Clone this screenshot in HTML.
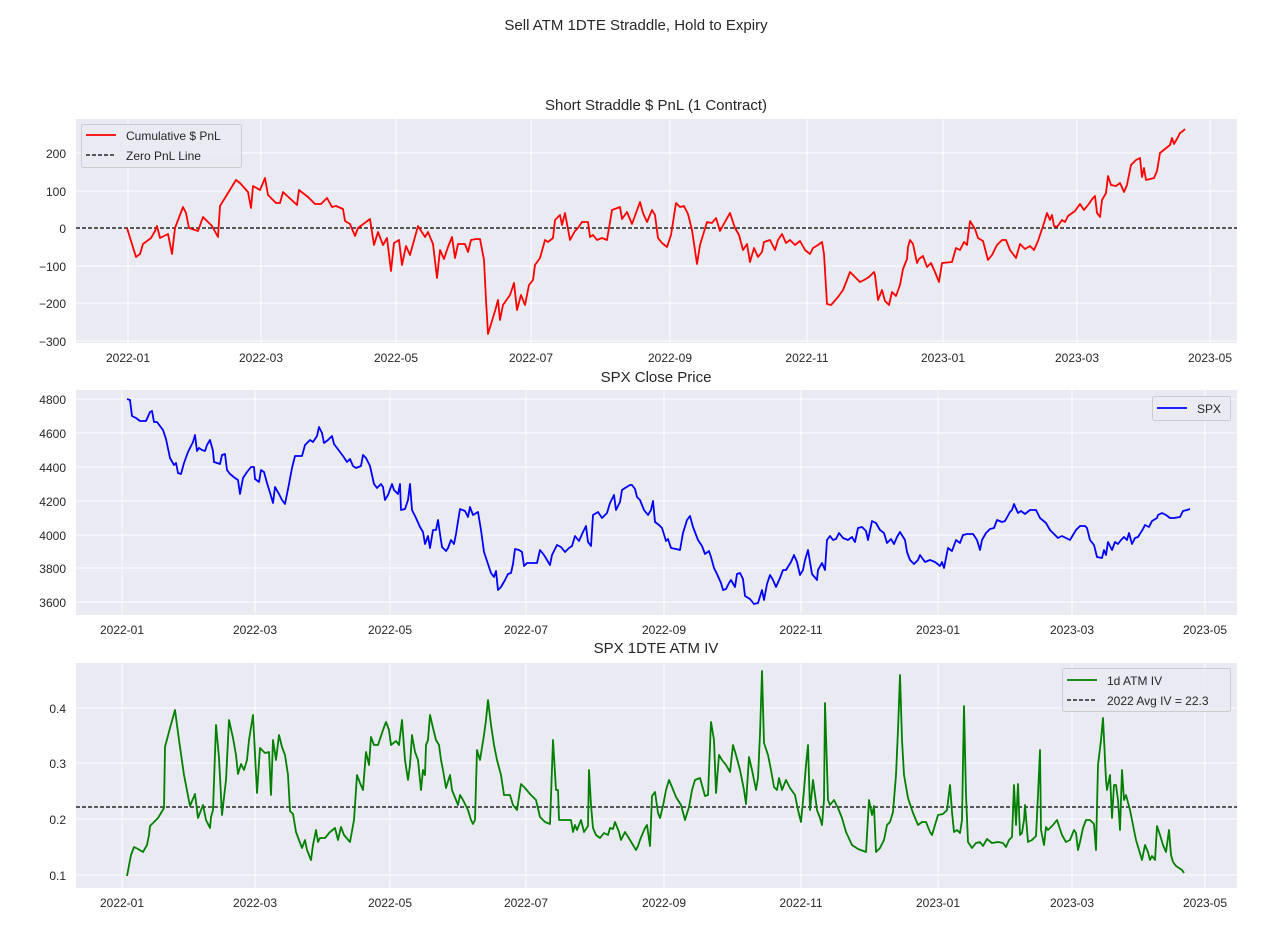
<!DOCTYPE html>
<html><head><meta charset="utf-8"><style>
body{margin:0;background:#fff;}
svg text{font-family:"Liberation Sans",sans-serif;fill:#262626;}
</style></head><body>
<svg width="1264" height="941" xmlns="http://www.w3.org/2000/svg">
<text x="636" y="30" font-size="15" text-anchor="middle">Sell ATM 1DTE Straddle, Hold to Expiry</text>

<!-- Panel 1 -->
<text x="656" y="110" font-size="15" text-anchor="middle">Short Straddle $ PnL (1 Contract)</text>
<rect x="76" y="119" width="1161" height="224" fill="#eaeaf2"/>
<g stroke="#fff" stroke-width="1">
<line x1="76" x2="1237" y1="153" y2="153"/><line x1="76" x2="1237" y1="191" y2="191"/><line x1="76" x2="1237" y1="228" y2="228"/><line x1="76" x2="1237" y1="266" y2="266"/><line x1="76" x2="1237" y1="303" y2="303"/><line x1="76" x2="1237" y1="341" y2="341"/>
<line y1="119" y2="343" x1="128" x2="128"/><line y1="119" y2="343" x1="261" x2="261"/><line y1="119" y2="343" x1="396" x2="396"/><line y1="119" y2="343" x1="531" x2="531"/><line y1="119" y2="343" x1="670" x2="670"/><line y1="119" y2="343" x1="807" x2="807"/><line y1="119" y2="343" x1="943" x2="943"/><line y1="119" y2="343" x1="1077" x2="1077"/><line y1="119" y2="343" x1="1210" x2="1210"/>
</g>
<g font-size="12" text-anchor="end">
<text x="66" y="158">200</text><text x="66" y="196">100</text><text x="66" y="233">0</text><text x="66" y="271">−100</text><text x="66" y="308">−200</text><text x="66" y="346">−300</text>
</g>
<g font-size="12" text-anchor="middle">
<text x="128" y="362">2022-01</text><text x="261" y="362">2022-03</text><text x="396" y="362">2022-05</text><text x="531" y="362">2022-07</text><text x="670" y="362">2022-09</text><text x="807" y="362">2022-11</text><text x="943" y="362">2023-01</text><text x="1077" y="362">2023-03</text><text x="1210" y="362">2023-05</text>
</g>
<line x1="76" x2="1237" y1="228" y2="228" stroke="#000" stroke-width="1.2" stroke-dasharray="4,2"/>
<polyline fill="none" stroke="#ff0000" stroke-width="1.8" stroke-linejoin="round" points="127,228 136,257 140,254 143,244 151,238 155,231 157,226 160,238 168,234 172,254 175,228 183,207 186,213 189,228 198,231 203,217 212,226 218,237 220,206 236,180 240,183 248,192 251,208 253,186 260,190 265,178 268,195 276,203 280,203 283,192 297,205 299,190 308,197 315,204 321,204 327,198 332,207 336,206 343,209 345,221 350,224 355,236 358,228 370,219 374,245 378,232 383,245 387,238 391,271 394,243 399,240 402,265 406,246 410,255 418,226 425,237 428,232 433,244 437,278 440,250 444,259 448,247 452,237 455,258 458,244 465,244 468,252 471,240 476,239 480,239 484,260 486,300 488,334 495,311 498,300 500,320 503,305 510,295 514,283 517,310 521,295 525,305 529,285 533,280 535,265 540,258 545,240 548,242 553,238 555,220 560,215 562,225 565,213 570,240 575,231 578,228 582,222 588,222 590,237 593,235 597,240 602,238 607,240 612,210 620,207 622,219 627,212 632,224 636,213 640,202 643,213 647,222 652,210 655,215 658,238 662,243 667,247 671,235 676,203 680,207 684,206 688,214 692,230 697,264 700,245 707,222 712,223 716,218 720,231 726,220 730,213 735,228 739,235 743,250 747,244 750,262 754,248 758,257 762,252 764,242 770,240 775,250 778,240 782,234 786,243 790,240 795,245 800,241 805,250 810,254 813,248 818,245 822,242 824,254 827,304 831,305 838,297 843,290 847,280 850,272 855,277 860,282 864,280 869,277 874,272 875,275 878,300 882,290 885,301 889,305 892,292 896,296 900,285 903,269 907,259 908,247 910,240 913,244 917,263 919,259 923,256 927,267 931,263 935,272 939,282 942,263 952,262 956,248 960,250 964,242 967,245 970,221 975,229 978,238 983,241 988,260 992,255 997,245 1002,240 1006,240 1010,250 1016,258 1020,244 1025,249 1030,246 1034,250 1038,241 1044,223 1047,213 1050,220 1052,215 1054,226 1057,227 1062,220 1065,222 1068,216 1075,211 1080,204 1084,210 1088,205 1093,198 1095,196 1097,213 1100,217 1102,200 1106,193 1108,176 1111,185 1116,186 1120,183 1124,192 1127,185 1131,165 1136,160 1140,158 1142,177 1144,168 1146,180 1150,179 1154,178 1157,171 1160,153 1165,149 1170,145 1172,138 1174,144 1178,137 1180,133 1183,131 1185,129"/>
<rect x="81.5" y="124.5" width="160" height="43" fill="#eaeaf2" fill-opacity="0.8" stroke="#ccc" rx="2"/>
<line x1="86" x2="116" y1="135" y2="135" stroke="#ff0000" stroke-width="1.8"/>
<line x1="86" x2="116" y1="155" y2="155" stroke="#000" stroke-width="1.2" stroke-dasharray="4,2"/>
<text x="126" y="140" font-size="12">Cumulative $ PnL</text>
<text x="126" y="160" font-size="12">Zero PnL Line</text>

<!-- Panel 2 -->
<text x="656" y="382" font-size="15" text-anchor="middle">SPX Close Price</text>
<rect x="76" y="390" width="1161" height="225" fill="#eaeaf2"/>
<g stroke="#fff" stroke-width="1">
<line x1="76" x2="1237" y1="399" y2="399"/><line x1="76" x2="1237" y1="433" y2="433"/><line x1="76" x2="1237" y1="467" y2="467"/><line x1="76" x2="1237" y1="501" y2="501"/><line x1="76" x2="1237" y1="535" y2="535"/><line x1="76" x2="1237" y1="568" y2="568"/><line x1="76" x2="1237" y1="602" y2="602"/>
<line y1="390" y2="615" x1="122" x2="122"/><line y1="390" y2="615" x1="255" x2="255"/><line y1="390" y2="615" x1="390" x2="390"/><line y1="390" y2="615" x1="526" x2="526"/><line y1="390" y2="615" x1="664" x2="664"/><line y1="390" y2="615" x1="801" x2="801"/><line y1="390" y2="615" x1="938" x2="938"/><line y1="390" y2="615" x1="1072" x2="1072"/><line y1="390" y2="615" x1="1205" x2="1205"/>
</g>
<g font-size="12" text-anchor="end">
<text x="66" y="404">4800</text><text x="66" y="438">4600</text><text x="66" y="472">4400</text><text x="66" y="506">4200</text><text x="66" y="540">4000</text><text x="66" y="573">3800</text><text x="66" y="607">3600</text>
</g>
<g font-size="12" text-anchor="middle">
<text x="122" y="634">2022-01</text><text x="255" y="634">2022-03</text><text x="390" y="634">2022-05</text><text x="526" y="634">2022-07</text><text x="664" y="634">2022-09</text><text x="801" y="634">2022-11</text><text x="938" y="634">2023-01</text><text x="1072" y="634">2023-03</text><text x="1205" y="634">2023-05</text>
</g>
<polyline fill="none" stroke="#0000ff" stroke-width="1.8" stroke-linejoin="round" points="127,399 130,400 132,416 136,418 140,421 146,421 150,412 152,411 154,422 157,422 163,430 166,439 170,458 174,465 176,463 178,473 181,474 184,463 188,452 193,442 195,435 197,451 199,448 202,450 205,451 207,445 210,440 213,451 214,462 217,463 220,464 222,455 225,454 227,470 230,474 235,478 238,480 240,494 243,478 247,472 251,467 254,467 255,479 259,482 261,470 264,472 267,483 271,496 273,503 275,487 279,494 282,500 285,504 289,484 292,468 295,456 302,456 305,445 310,440 313,442 317,436 319,427 322,433 324,443 328,440 332,436 334,444 340,452 343,456 347,462 350,459 353,466 356,468 361,466 363,455 366,458 370,466 374,484 377,488 381,484 383,487 385,500 388,495 392,484 394,490 398,494 400,484 401,510 405,509 408,500 410,484 412,510 416,518 420,527 423,532 425,544 428,536 430,548 433,530 436,530 438,520 440,534 442,547 446,551 448,548 451,540 454,544 456,534 460,509 465,511 468,517 470,507 473,515 478,512 481,530 484,552 488,564 491,573 494,577 496,571 498,590 501,587 505,580 508,574 511,573 513,564 515,549 519,550 522,552 524,566 527,563 531,563 537,563 540,550 544,555 547,560 550,565 552,555 557,545 561,547 565,552 569,548 572,546 575,536 579,541 583,532 586,526 588,542 591,546 593,515 598,512 602,518 607,513 610,503 614,495 616,510 620,502 622,490 625,488 630,485 632,485 635,489 637,497 640,500 644,510 648,515 651,510 653,501 655,522 659,525 662,528 666,541 668,539 671,548 676,549 680,550 683,533 687,520 690,516 693,527 698,540 702,546 705,554 709,551 711,557 714,568 717,574 721,583 723,590 726,589 729,583 731,580 735,587 737,574 740,573 743,579 745,596 750,599 754,604 758,603 762,590 764,600 767,584 770,575 773,580 776,587 780,578 783,570 786,570 791,562 794,555 797,562 800,575 803,570 805,560 808,550 812,574 817,580 818,570 822,563 825,570 827,540 830,536 833,540 836,539 839,533 843,538 848,540 852,537 855,542 858,528 862,527 866,531 868,540 872,521 876,523 880,530 884,533 887,543 891,539 894,544 897,537 900,532 905,540 907,552 910,560 914,564 918,560 920,555 925,562 930,560 935,562 940,566 942,562 944,568 948,548 952,551 956,540 960,543 963,535 967,534 973,534 977,540 980,550 982,540 986,533 990,529 994,528 997,520 1002,522 1005,521 1010,512 1012,510 1014,504 1018,513 1021,511 1025,514 1030,510 1036,510 1040,518 1046,523 1050,530 1055,535 1058,538 1062,536 1066,538 1070,540 1073,535 1076,530 1080,526 1085,526 1087,528 1090,540 1094,545 1097,557 1102,558 1104,550 1106,555 1108,542 1112,550 1115,542 1118,544 1121,540 1124,537 1127,540 1129,533 1132,544 1135,538 1138,537 1143,529 1145,525 1149,527 1152,521 1157,518 1158,515 1162,513 1166,515 1170,518 1174,518 1180,517 1183,511 1187,510 1190,509"/>
<rect x="1152.5" y="396.5" width="78" height="24" fill="#eaeaf2" fill-opacity="0.8" stroke="#ccc" rx="2"/>
<line x1="1157" x2="1187" y1="408" y2="408" stroke="#0000ff" stroke-width="1.8"/>
<text x="1197" y="413" font-size="12">SPX</text>

<!-- Panel 3 -->
<text x="656" y="653" font-size="15" text-anchor="middle">SPX 1DTE ATM IV</text>
<rect x="76" y="663" width="1161" height="225" fill="#eaeaf2"/>
<g stroke="#fff" stroke-width="1">
<line x1="76" x2="1237" y1="708" y2="708"/><line x1="76" x2="1237" y1="763" y2="763"/><line x1="76" x2="1237" y1="819" y2="819"/><line x1="76" x2="1237" y1="875" y2="875"/>
<line y1="663" y2="888" x1="122" x2="122"/><line y1="663" y2="888" x1="255" x2="255"/><line y1="663" y2="888" x1="390" x2="390"/><line y1="663" y2="888" x1="526" x2="526"/><line y1="663" y2="888" x1="664" x2="664"/><line y1="663" y2="888" x1="801" x2="801"/><line y1="663" y2="888" x1="938" x2="938"/><line y1="663" y2="888" x1="1072" x2="1072"/><line y1="663" y2="888" x1="1205" x2="1205"/>
</g>
<g font-size="12" text-anchor="end">
<text x="66" y="713">0.4</text><text x="66" y="768">0.3</text><text x="66" y="824">0.2</text><text x="66" y="880">0.1</text>
</g>
<g font-size="12" text-anchor="middle">
<text x="122" y="907">2022-01</text><text x="255" y="907">2022-03</text><text x="390" y="907">2022-05</text><text x="526" y="907">2022-07</text><text x="664" y="907">2022-09</text><text x="801" y="907">2022-11</text><text x="938" y="907">2023-01</text><text x="1072" y="907">2023-03</text><text x="1205" y="907">2023-05</text>
</g>
<line x1="76" x2="1237" y1="807" y2="807" stroke="#000" stroke-width="1.2" stroke-dasharray="4,2"/>
<polyline fill="none" stroke="#008000" stroke-width="1.8" stroke-linejoin="round" points="127,876 131,855 134,847 138,849 143,852 147,845 149,835 150,826 153,823 158,818 164,808 165,747 170,728 175,710 179,740 184,775 190,806 195,794 198,818 203,805 206,820 210,828 211,817 213,810 216,725 219,758 222,815 226,780 229,720 233,738 236,755 238,774 241,764 244,770 247,760 249,740 253,715 257,793 260,748 265,753 269,752 271,795 273,740 276,760 279,735 282,747 285,755 288,775 290,811 293,814 296,832 299,840 302,848 305,840 307,850 311,860 313,845 316,830 318,842 320,838 325,838 330,832 335,828 338,840 341,827 344,835 350,842 354,820 357,775 360,783 363,790 366,752 369,765 371,737 374,745 378,745 383,730 386,722 389,730 391,745 396,741 399,745 402,720 405,760 408,780 410,765 412,735 415,752 418,760 421,790 423,770 425,775 426,745 428,740 430,715 433,728 436,740 439,745 441,760 443,770 446,788 450,775 452,790 458,805 460,795 463,800 468,810 471,820 473,824 475,820 477,750 480,760 484,735 486,720 488,700 491,725 494,745 497,760 501,775 504,795 510,795 513,805 517,810 521,784 525,788 530,794 536,800 540,817 545,822 550,824 553,740 556,790 558,790 559,820 565,820 571,820 573,832 575,825 577,830 581,820 584,832 588,826 589,770 591,805 593,828 596,835 600,838 604,833 608,835 610,828 613,829 615,822 619,832 621,840 625,832 630,840 633,845 636,850 638,846 640,840 642,835 645,828 647,825 650,846 652,796 655,792 658,813 660,818 663,806 666,790 669,780 672,787 676,797 681,805 685,820 689,807 692,790 695,780 700,778 705,796 708,795 711,722 714,740 716,793 719,755 722,760 726,765 730,772 733,745 736,755 740,770 744,790 746,804 749,757 752,770 754,780 756,790 758,778 760,734 762,671 764,743 768,755 771,770 774,787 777,790 779,778 782,790 786,780 790,788 795,795 798,810 801,822 804,790 806,765 808,745 810,810 813,780 815,795 817,810 820,818 822,825 824,800 825,703 828,800 830,805 834,800 838,808 842,818 846,832 852,845 858,849 866,852 869,800 872,815 874,806 876,852 880,848 884,840 887,825 890,822 893,812 896,775 898,730 900,675 902,740 904,775 908,798 913,813 918,825 922,822 926,822 930,832 932,835 935,825 938,815 943,814 947,810 950,785 952,812 954,832 957,830 960,833 962,820 964,706 966,795 968,842 972,848 976,843 980,842 983,846 987,839 992,843 998,842 1003,843 1006,847 1009,840 1012,837 1014,785 1016,825 1018,784 1020,835 1022,833 1024,820 1025,805 1028,842 1032,840 1036,836 1038,795 1040,750 1041,830 1044,845 1046,827 1048,830 1053,825 1057,820 1062,835 1066,842 1070,840 1074,830 1076,833 1078,850 1080,842 1083,828 1086,820 1090,820 1094,824 1096,850 1098,765 1101,740 1103,718 1106,780 1107,790 1110,775 1112,818 1114,785 1116,785 1118,800 1120,830 1122,770 1124,800 1126,795 1130,810 1133,825 1136,840 1139,850 1142,860 1145,845 1148,852 1150,860 1152,856 1155,860 1157,826 1160,835 1163,845 1166,852 1169,830 1171,855 1173,862 1176,866 1182,870 1184,873"/>
<rect x="1062.5" y="668.5" width="168" height="43" fill="#eaeaf2" fill-opacity="0.8" stroke="#ccc" rx="2"/>
<line x1="1067" x2="1097" y1="680" y2="680" stroke="#008000" stroke-width="1.8"/>
<line x1="1067" x2="1097" y1="700" y2="700" stroke="#000" stroke-width="1.2" stroke-dasharray="4,2"/>
<text x="1107" y="685" font-size="12">1d ATM IV</text>
<text x="1107" y="705" font-size="12">2022 Avg IV = 22.3</text>
</svg>
</body></html>
